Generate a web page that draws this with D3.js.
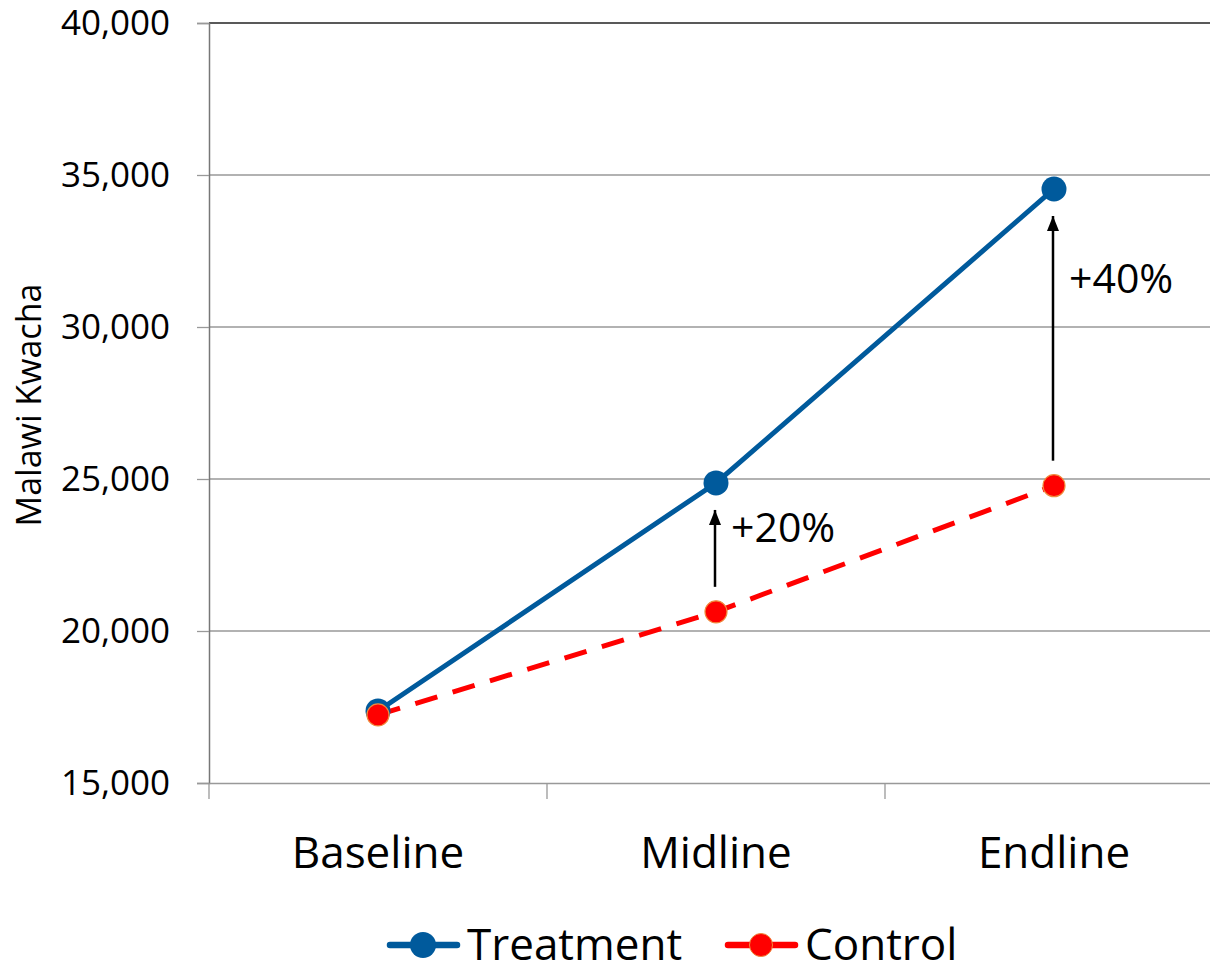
<!DOCTYPE html>
<html>
<head>
<meta charset="utf-8">
<script src="https://cdn.jsdelivr.net/npm/d3@7"></script>
<style>
  body { margin: 0; background: #fff; }
  svg { display: block; font-family: "Open Sans", "Noto Sans", sans-serif; }
</style>
</head>
<body>
<svg id="chart" width="1210" height="964"></svg>
<script>
const categories = ['Baseline', 'Midline', 'Endline'];
const treatment = [17370, 24870, 34540];
const control = [17240, 20630, 24780];
const yTicks = [15000, 20000, 25000, 30000, 35000, 40000];
const gains = [
  { cat: 'Midline', from: 20630, to: 24870, label: '+20%' },
  { cat: 'Endline', from: 24780, to: 34540, label: '+40%' }
];

const svg = d3.select('#chart');
const plot = { left: 209, top: 23, bottom: 783, right: 1223 };

const x = d3.scaleBand().domain(categories).range([plot.left, plot.right]);
const y = d3.scaleLinear().domain([15000, 40000]).range([plot.bottom, plot.top]);
const cx = (c) => x(c) + x.bandwidth() / 2;

svg.append('defs').append('marker')
  .attr('id', 'head')
  .attr('viewBox', '0 0 10 10')
  .attr('refX', 10).attr('refY', 5)
  .attr('markerWidth', 6).attr('markerHeight', 6)
  .attr('markerUnits', 'strokeWidth')
  .attr('orient', 'auto')
  .append('path').attr('d', 'M0,1 L10,5 L0,9 Z').attr('fill', '#000');

// gridlines
svg.append('g')
  .selectAll('line')
  .data(yTicks.slice(1, -1))
  .join('line')
  .attr('x1', plot.left).attr('x2', plot.right)
  .attr('y1', (d) => y(d)).attr('y2', (d) => y(d))
  .attr('stroke', '#999').attr('stroke-width', 1.3);

// top border
svg.append('line')
  .attr('x1', plot.left).attr('x2', plot.right)
  .attr('y1', y(40000)).attr('y2', y(40000))
  .attr('stroke', '#222').attr('stroke-width', 1.5);

// y axis
const yAxis = svg.append('g')
  .attr('transform', `translate(${plot.left},0)`)
  .call(d3.axisLeft(y).tickValues(yTicks).tickSize(12).tickPadding(27)
    .tickFormat(d3.format(',')));
yAxis.select('.domain').attr('stroke', '#777').attr('stroke-width', 1.5);
yAxis.selectAll('.tick line').attr('stroke', '#999').attr('stroke-width', 1.3);
yAxis.selectAll('.tick text')
  .attr('font-size', 35).attr('fill', '#000')
  .attr('font-family', '"Open Sans", sans-serif');

// x axis
const xAxis = svg.append('g')
  .attr('transform', `translate(0,${plot.bottom})`)
  .call(d3.axisBottom(x).tickSize(0).tickPadding(54));
xAxis.select('.domain').attr('stroke', '#999').attr('stroke-width', 1.5);
xAxis.selectAll('.tick text')
  .attr('font-size', 44).attr('fill', '#000')
  .attr('font-family', '"Open Sans", sans-serif');
xAxis.append('g')
  .selectAll('line')
  .data(categories)
  .join('line')
  .attr('x1', (d) => x(d)).attr('x2', (d) => x(d))
  .attr('y1', 0).attr('y2', 16)
  .attr('stroke', '#999').attr('stroke-width', 1.3);

// y title
svg.append('text')
  .attr('transform', `translate(41,${(plot.top + plot.bottom) / 2 + 2}) rotate(-90)`)
  .attr('text-anchor', 'middle')
  .attr('font-size', 34)
  .text('Malawi Kwacha');

const line = d3.line().x((d, i) => cx(categories[i])).y((d) => y(d));

// control series
svg.append('path')
  .datum(control)
  .attr('d', line)
  .attr('fill', 'none')
  .attr('stroke', '#ff0000').attr('stroke-width', 5)
  .attr('stroke-dasharray', '23,16');

// treatment series
svg.append('path')
  .datum(treatment)
  .attr('d', line)
  .attr('fill', 'none')
  .attr('stroke', '#005a9c').attr('stroke-width', 5);

svg.append('g')
  .selectAll('circle')
  .data(treatment)
  .join('circle')
  .attr('cx', (d, i) => cx(categories[i]))
  .attr('cy', (d) => y(d))
  .attr('r', 12.5)
  .attr('fill', '#005a9c');

svg.append('g')
  .selectAll('circle')
  .data(control)
  .join('circle')
  .attr('cx', (d, i) => cx(categories[i]))
  .attr('cy', (d) => y(d))
  .attr('r', 11)
  .attr('fill', '#ff0000')
  .attr('stroke', '#f08a3c').attr('stroke-width', 1.2);

// gain arrows
const arrows = svg.append('g');
gains.forEach((g) => {
  const ax = cx(g.cat) - 1;
  arrows.append('line')
    .attr('x1', ax).attr('x2', ax)
    .attr('y1', y(g.from) - 25)
    .attr('y2', y(g.to) + 27)
    .attr('stroke', '#000').attr('stroke-width', 2.5)
    .attr('marker-end', 'url(#head)');
  arrows.append('text')
    .attr('x', ax + 16)
    .attr('y', y(g.to) + (g.cat === 'Midline' ? 59 : 104))
    .attr('font-size', 41)
    .text(g.label);
});

// legend
const legend = svg.append('g').attr('transform', 'translate(0,945)');
const items = [
  { name: 'Treatment', color: '#005a9c', x: 387, r: 13, stroke: 'none' },
  { name: 'Control', color: '#ff0000', x: 725, r: 11.5, stroke: '#f08a3c' }
];
items.forEach((it) => {
  legend.append('line')
    .attr('x1', it.x + 3).attr('x2', it.x + 70)
    .attr('y1', 0).attr('y2', 0)
    .attr('stroke', it.color).attr('stroke-width', 6.5)
    .attr('stroke-linecap', 'round');
  legend.append('circle')
    .attr('cx', it.x + 36).attr('cy', 0).attr('r', it.r)
    .attr('fill', it.color).attr('stroke', it.stroke);
  legend.append('text')
    .attr('x', it.x + 80).attr('y', 15)
    .attr('font-size', 44)
    .text(it.name);
});
</script>
</body>
</html>
